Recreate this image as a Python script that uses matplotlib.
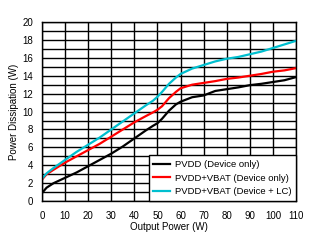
import matplotlib
matplotlib.use("Agg")
import matplotlib.pyplot as plt

plt.rcParams['font.family'] = ['Liberation Sans', 'DejaVu Sans']

# output power (W)
xs = [0, 2, 5, 10, 15, 20, 25, 30, 35, 40, 45, 48, 50, 52, 55, 58, 60, 65,
      70, 75, 80, 85, 90, 95, 100, 105, 110]

pvdd = [0.9, 1.5, 2.0, 2.6, 3.2, 3.9, 4.6, 5.3, 6.1, 7.0, 7.9, 8.4, 8.7, 9.2,
        10.1, 10.8, 11.1, 11.6, 11.8, 12.3, 12.5, 12.7, 12.95, 13.1, 13.3,
        13.5, 13.85]
pvdd_vbat = [2.4, 3.0, 3.5, 4.3, 5.0, 5.7, 6.4, 7.2, 8.0, 8.8, 9.5, 9.9, 10.2,
             10.6, 11.5, 12.2, 12.6, 13.0, 13.2, 13.4, 13.65, 13.8, 14.0,
             14.2, 14.45, 14.6, 14.85]
pvdd_vbat_lc = [2.5, 3.1, 3.7, 4.6, 5.5, 6.3, 7.1, 8.0, 8.9, 9.8, 10.7, 11.2,
                11.65, 12.2, 13.1, 13.8, 14.2, 14.8, 15.2, 15.6, 15.9, 16.1,
                16.4, 16.7, 17.1, 17.5, 17.9]

labels = ["PVDD (Device only)", "PVDD+VBAT (Device only)",
          "PVDD+VBAT (Device + LC)"]

fig = plt.figure(figsize=(3.18, 2.42), dpi=100)
ax = fig.add_axes([0.132, 0.169, 0.799, 0.740])

ax.plot(xs, pvdd, color='black', lw=1.6, label=labels[0])
ax.plot(xs, pvdd_vbat, color='#ff0000', lw=1.6, label=labels[1])
ax.plot(xs, pvdd_vbat_lc, color='#00bfcf', lw=1.6, label=labels[2])

ax.set_xlim(0, 110)
ax.set_ylim(0, 20)
ax.set_xticks(range(0, 111, 10))
ax.set_yticks(range(0, 21, 2))
ax.set_yticks(range(0, 21, 1), minor=True)
ax.grid(True, which='both', color='black', lw=1.0)
ax.set_axisbelow(True)
ax.tick_params(which='both', length=0, labelsize=7)
ax.tick_params(axis='x', pad=7)
ax.tick_params(axis='y', pad=6.5)
for s in ax.spines.values():
    s.set_color('black')
    s.set_linewidth(1.0)

ax.set_xlabel("Output Power (W)", fontsize=7, labelpad=0.5)
ax.set_ylabel("Power Dissipation (W)", fontsize=7, labelpad=2)

leg = ax.legend(loc='lower right', fontsize=6.8, frameon=True, fancybox=False,
                borderaxespad=0, handlelength=1.8, handletextpad=0.45,
                labelspacing=0.5, borderpad=0.5)
leg.get_frame().set_edgecolor('black')
leg.get_frame().set_linewidth(1.0)
leg.get_frame().set_alpha(1)

fig.savefig("out.png", dpi=100)
